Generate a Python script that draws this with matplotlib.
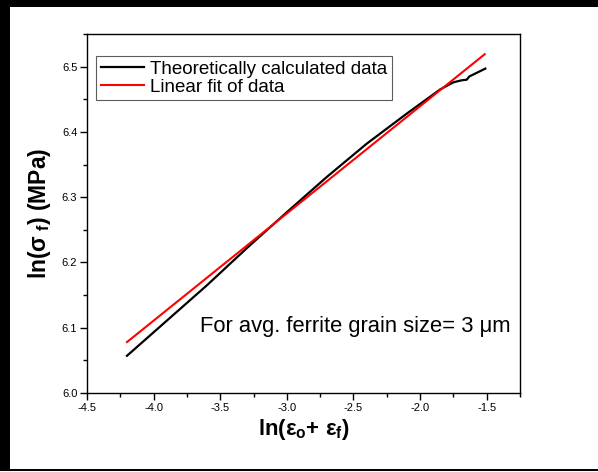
import matplotlib
matplotlib.use("Agg")
import matplotlib.pyplot as plt
from matplotlib.ticker import MultipleLocator

plt.rcParams['font.family'] = ['Liberation Sans', 'DejaVu Sans']
plt.rcParams['mathtext.fontset'] = 'custom'
plt.rcParams['mathtext.rm'] = 'Liberation Sans:bold'
plt.rcParams['mathtext.it'] = 'Liberation Sans:bold'
plt.rcParams['mathtext.bf'] = 'Liberation Sans:bold'
plt.rcParams['axes.unicode_minus'] = False

# Theoretically calculated flow stress vs. strain (log-log)
theory_x = [-4.20, -3.90, -3.60, -3.30, -3.00, -2.70, -2.40, -2.10, -1.85,
            -1.75, -1.69, -1.65, -1.63, -1.58, -1.51]
theory_y = [6.057, 6.111, 6.165, 6.222, 6.277, 6.331, 6.382, 6.428, 6.465,
            6.476, 6.479, 6.480, 6.485, 6.490, 6.497]

# Linear fit end points
fit_x = [-4.20, -1.515]
fit_y = [6.078, 6.519]

annotation = "For avg. ferrite grain size= 3 \u03bcm"

W, H = 598, 472
fig = plt.figure(figsize=(W / 100, H / 100), dpi=100, facecolor='white')

# background layer in pixel units for the black page frame
bg = fig.add_axes([0, 0, 1, 1], zorder=-1)
bg.set_xlim(0, W)
bg.set_ylim(H, 0)
bg.axis('off')
bg.axhspan(0, 7, color='black', lw=0)        # top band
bg.axhspan(469, 471, color='black', lw=0)    # bottom rule
bg.axvspan(0, 10, ymin=1 / H, ymax=1, color='black', lw=0)  # left band

ax = fig.add_axes([87 / W, 1 - 393 / H, (520 - 87) / W, (393 - 34) / H])

ax.plot(theory_x, theory_y, color='black', lw=1.6, label='Theoretically calculated data')
ax.plot(fit_x, fit_y, color='#ff0000', lw=1.5, label='Linear fit of data')

ax.set_xlim(-4.5, -1.25)
ax.set_ylim(6.0, 6.55)
ax.xaxis.set_major_locator(MultipleLocator(0.5))
ax.xaxis.set_minor_locator(MultipleLocator(0.25))
ax.yaxis.set_major_locator(MultipleLocator(0.1))
ax.yaxis.set_minor_locator(MultipleLocator(0.05))
ax.tick_params(which='both', direction='out', labelsize=8, width=1)
ax.tick_params(which='major', length=5, pad=2)
ax.tick_params(which='minor', length=3)
for s in ax.spines.values():
    s.set_linewidth(1.0)

ax.set_xlabel(r'ln($ε_{o}$+ $ε_{f}$)', fontsize=16, fontweight='bold', labelpad=3)
ax.set_ylabel(r'ln($σ_{\ f}$) (MPa)', fontsize=16.5, fontweight='bold', labelpad=6)

leg = ax.legend(loc='upper left', bbox_to_anchor=(0.021, 0.939), fontsize=13.5,
                frameon=True, fancybox=False, edgecolor='#333333',
                handlelength=2.3, handletextpad=0.35, borderpad=0.25,
                labelspacing=0.05, borderaxespad=0.0)
leg.get_frame().set_linewidth(0.8)

ax.text(0.261, 0.184, annotation, transform=ax.transAxes, fontsize=15.8,
        ha='left', va='center')

fig.savefig('out.png', dpi=100, facecolor='white')
